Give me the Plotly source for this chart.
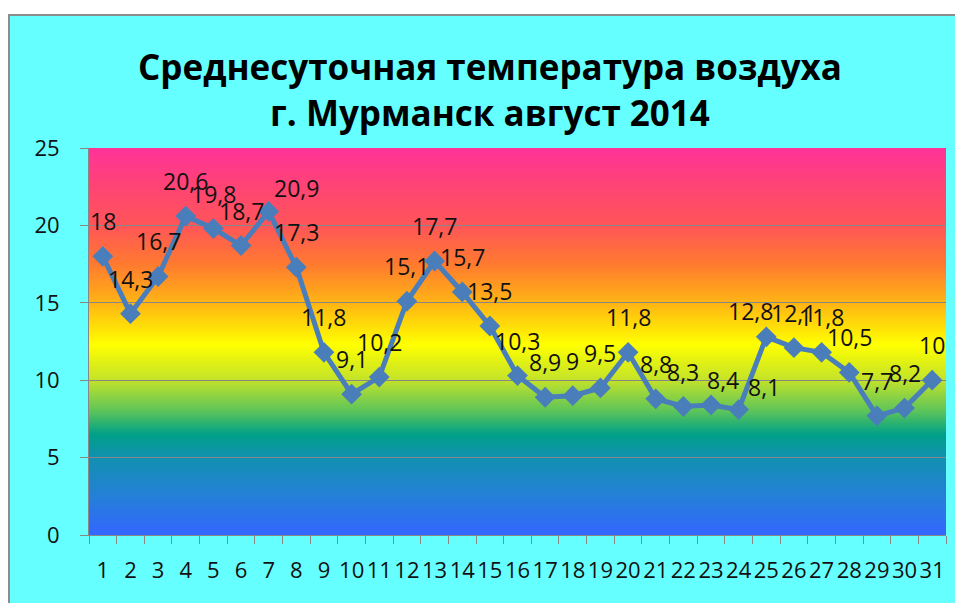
import plotly.graph_objects as go

# ---- data ----
days = list(range(1, 32))
temps = [18, 14.3, 16.7, 20.6, 19.8, 18.7, 20.9, 17.3, 11.8, 9.1, 10.2, 15.1, 17.7, 15.7,
         13.5, 10.3, 8.9, 9, 9.5, 11.8, 8.8, 8.3, 8.4, 8.1, 12.8, 12.1, 11.8, 10.5, 7.7,
         8.2, 10]
tick_labels = [str(d) for d in days]
title_text = "Среднесуточная температура воздуха<br>г. Мурманск август 2014"

# background gradient stops (value -> colour)
grad_vals = [0, 2.5, 5, 6.5, 8, 10, 12.3, 15, 17.5, 20, 22.5, 25]
grad_cols = ["#3366FF", "#2580D8", "#1190B0", "#00A088", "#5CC45A", "#C2E22A",
             "#FFFF00", "#FFB414", "#FF7A30", "#FF5558", "#FF4474", "#FF3399"]

# label placement (pixel shifts from the point; most sit centred 35px above)
label_dx = {7: 28, 23: 12, 24: 25, 25: -16}
label_dy = {7: 23, 23: 25, 24: 23, 25: 26}


def hex2rgb(h):
    h = h.lstrip("#")
    return tuple(int(h[i:i + 2], 16) for i in (0, 2, 4))


def colour_at(v):
    for i in range(len(grad_vals) - 1):
        a, b = grad_vals[i], grad_vals[i + 1]
        if a <= v <= b:
            t = (v - a) / (b - a)
            c0, c1 = hex2rgb(grad_cols[i]), hex2rgb(grad_cols[i + 1])
            c = [round(c0[k] + (c1[k] - c0[k]) * t) for k in range(3)]
            return "rgb(%d,%d,%d)" % tuple(c)
    return grad_cols[-1]


FONT = "Open Sans"
TXT = "#111111"
GRID = "#878787"

fig = go.Figure()

fig.add_trace(go.Scatter(
    x=days, y=temps, mode="lines+markers",
    line=dict(color="#4A7EBB", width=5),
    marker=dict(symbol="diamond", size=16, color="#4A7EBB"),
    hoverinfo="x+y", showlegend=False,
))

shapes = []
steps = 200
lo, hi = 0, 25
for i in range(steps):
    y0 = lo + (hi - lo) * i / steps
    y1 = lo + (hi - lo) * (i + 1) / steps
    shapes.append(dict(type="rect", xref="x domain", yref="y", x0=0, x1=1,
                       y0=y0, y1=min(y1 + 0.2, hi), fillcolor=colour_at((y0 + y1) / 2),
                       line=dict(width=0), layer="below"))

# page is offset by the 8px body margin; layout values are in figure pixels
W, H = 963, 603
ml, mr, mt, mb = 81, 25, 140, 76
pw, ph = W - ml - mr, H - mt - mb


def px(x):
    return (x - ml) / pw


def py(y):
    return (H - mb - y) / ph


# white strip on top with grey border lines (top and left)
shapes.append(dict(type="rect", xref="paper", yref="paper", x0=px(-5), x1=px(W + 5),
                   y0=py(7), y1=py(-5), fillcolor="white", line=dict(width=0), layer="above"))
shapes.append(dict(type="line", xref="paper", yref="paper", x0=px(0), x1=px(W + 5),
                   y0=py(7), y1=py(7), line=dict(color="#8C8C8C", width=2), layer="above"))
shapes.append(dict(type="line", xref="paper", yref="paper", x0=px(1), x1=px(1),
                   y0=py(7), y1=py(H + 5), line=dict(color="#8C8C8C", width=2), layer="above"))

annotations = []
for d, t in zip(days, temps):
    annotations.append(dict(x=d, y=t, xref="x", yref="y", text=f"{t:g}".replace(".", ","),
                            showarrow=False, xshift=label_dx.get(d, 0),
                            yshift=label_dy.get(d, 35),
                            font=dict(family=FONT, size=23, color=TXT)))

fig.update_layout(
    width=W, height=H,
    margin=dict(l=ml, r=mr, t=mt, b=mb),
    paper_bgcolor="#66FFFF",
    plot_bgcolor="#66FFFF",
    title=dict(text=title_text, x=482 / W, xanchor="center", y=1 - 72 / H,
               yanchor="middle",
               font=dict(family=FONT, size=35, color="#000000", weight="bold")),
    shapes=shapes,
    annotations=annotations,
    font=dict(family=FONT, size=22, color=TXT),
    xaxis=dict(range=[0.5, 31.5], tickmode="array", tickvals=days, ticktext=tick_labels,
               ticks="", showgrid=False, zeroline=False, showline=True, linecolor=GRID,
               linewidth=1, ticklabelstandoff=16,
               tickfont=dict(family=FONT, size=22, color=TXT),
               minor=dict(tickmode="linear", tick0=0.5, dtick=1, ticks="outside",
                          ticklen=8, tickcolor=GRID, showgrid=False),
               fixedrange=True),
    yaxis=dict(range=[0, 25], tick0=0, dtick=5, showgrid=True, gridcolor=GRID,
               gridwidth=1, zeroline=False, showline=True, linecolor=GRID, linewidth=1,
               ticks="outside", ticklen=8, tickcolor=GRID, ticklabelstandoff=16,
               tickfont=dict(family=FONT, size=22, color=TXT), fixedrange=True),
)

fig.write_html("out.html")
